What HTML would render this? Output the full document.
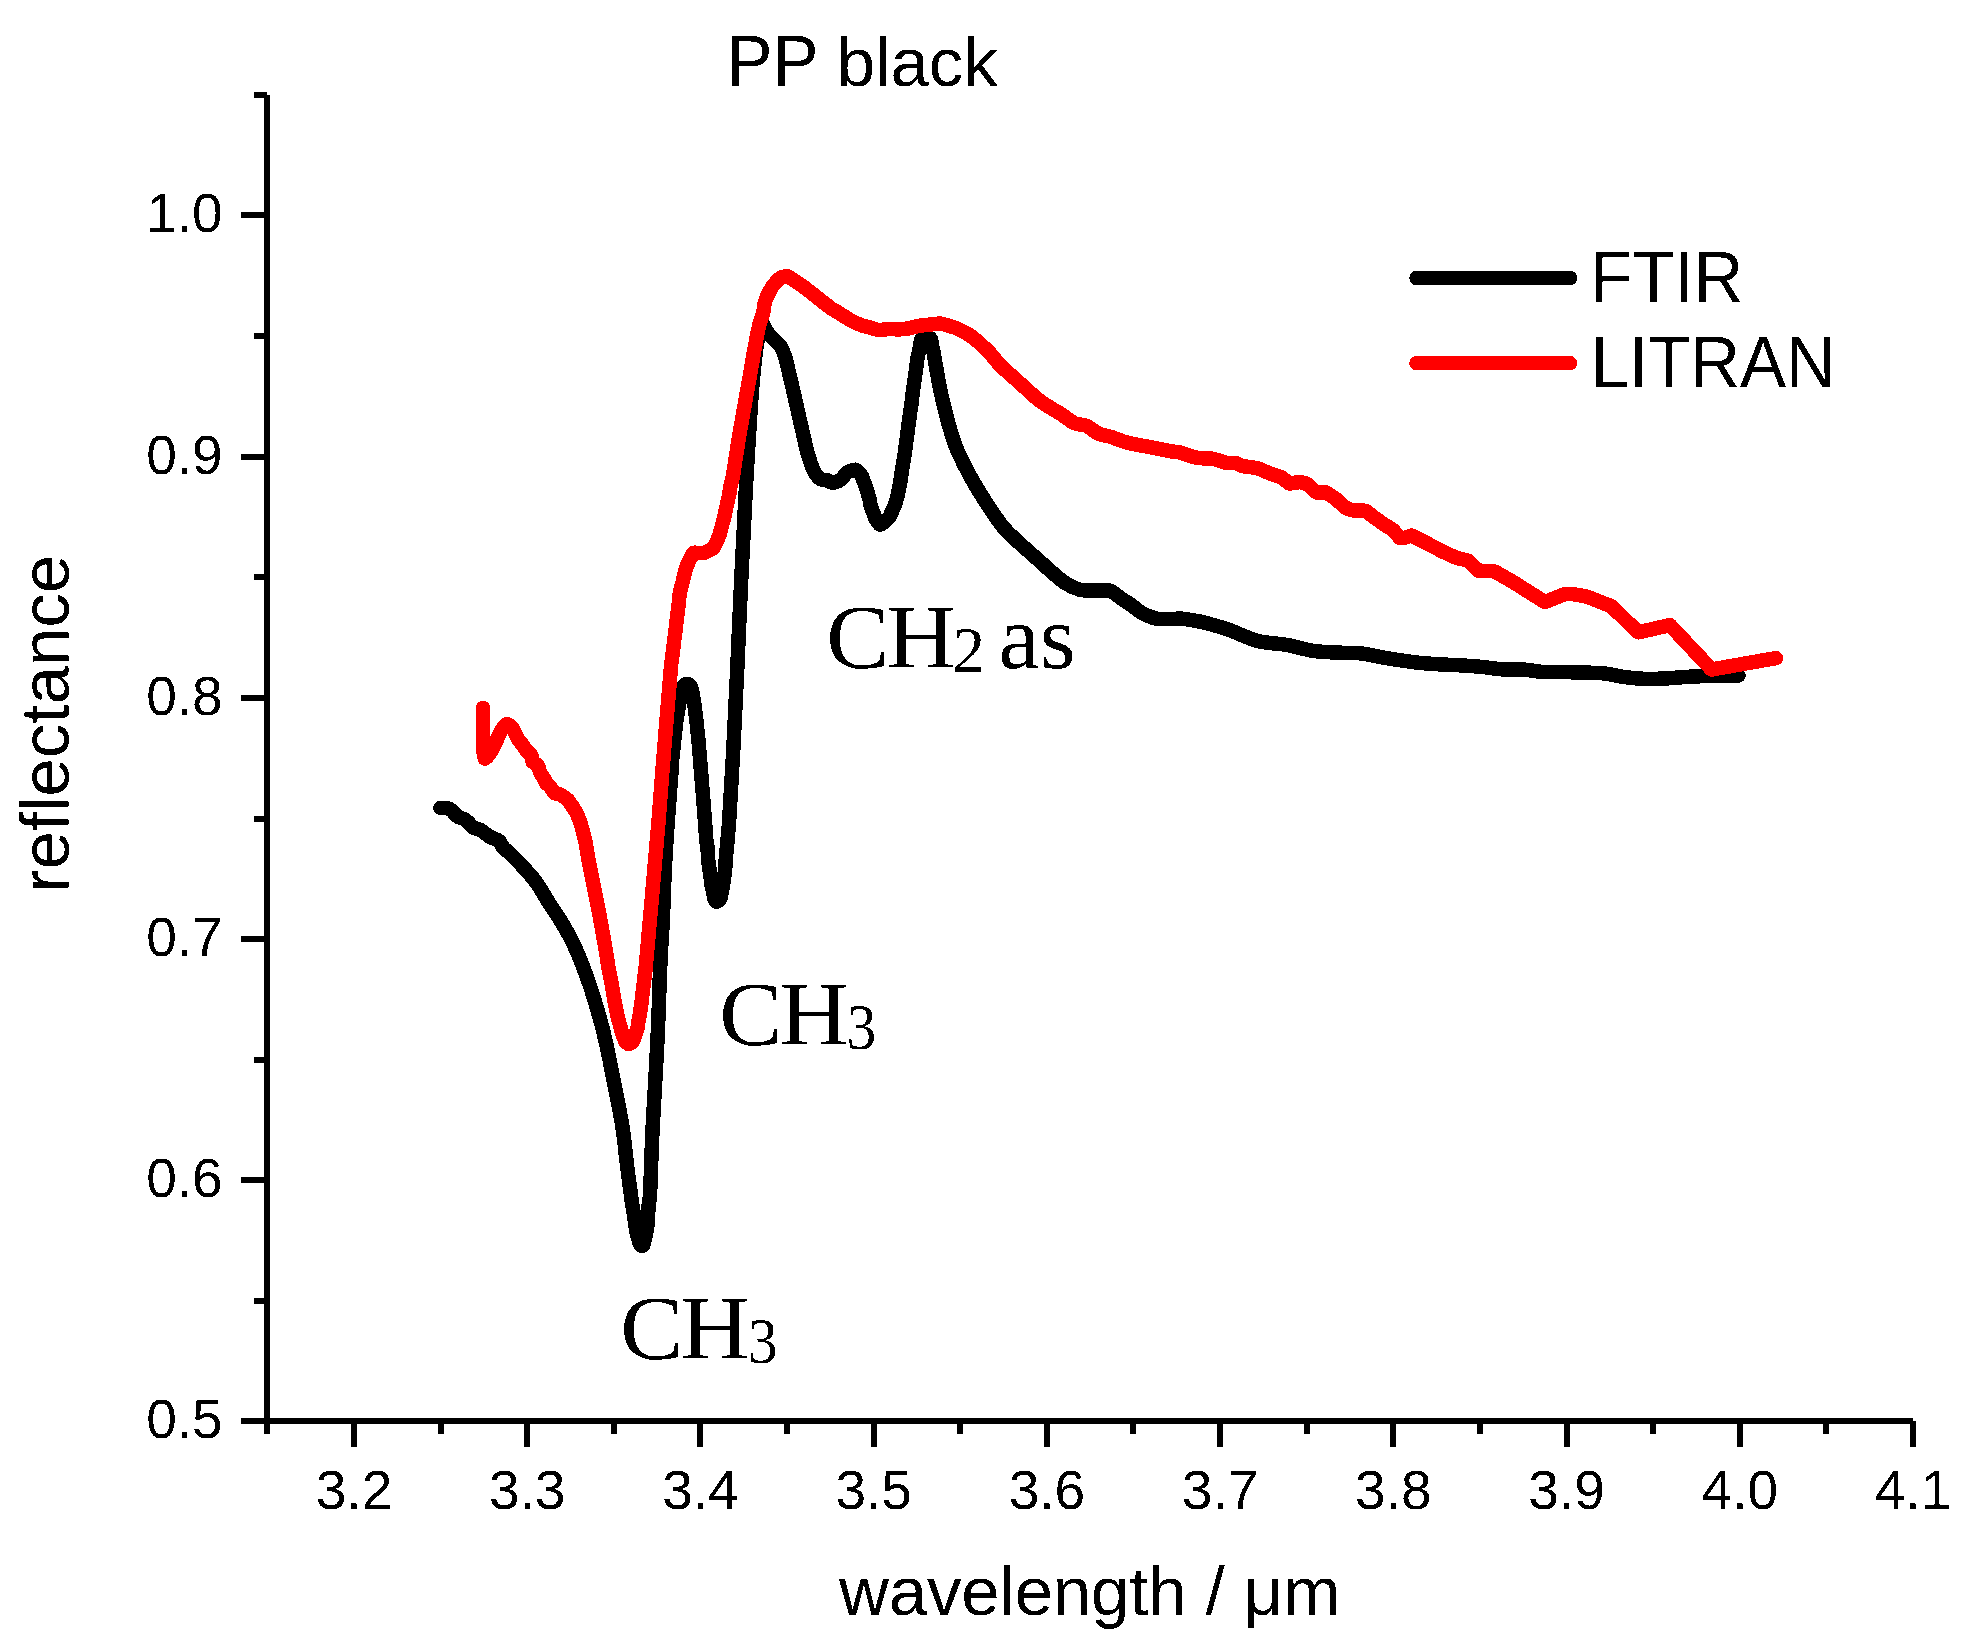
<!DOCTYPE html>
<html><head><meta charset="utf-8"><title>PP black</title>
<style>html,body{margin:0;padding:0;background:#fff}svg{display:block}</style></head>
<body><svg width="1969" height="1642" viewBox="0 0 1969 1642">
<defs><filter id="bi" filterUnits="userSpaceOnUse" x="0" y="0" width="1969" height="1642" color-interpolation-filters="sRGB"><feComponentTransfer><feFuncA type="discrete" tableValues="0 1"/></feComponentTransfer></filter></defs>
<rect width="1969" height="1642" fill="#fff"/>
<g stroke="#000" stroke-width="6" fill="none" stroke-linecap="butt" shape-rendering="crispEdges">
<path d="M267 95.0V1434"/>
<path d="M241 1421H1913"/>
<path d="M254 95H267"/>
<path d="M241 215H267"/>
<path d="M254 336H267"/>
<path d="M241 457H267"/>
<path d="M254 577H267"/>
<path d="M241 698H267"/>
<path d="M254 819H267"/>
<path d="M241 939H267"/>
<path d="M254 1060H267"/>
<path d="M241 1180H267"/>
<path d="M254 1301H267"/>
<path d="M354 1421V1446.5"/>
<path d="M441 1421V1434"/>
<path d="M527 1421V1446.5"/>
<path d="M614 1421V1434"/>
<path d="M700 1421V1446.5"/>
<path d="M787 1421V1434"/>
<path d="M874 1421V1446.5"/>
<path d="M960 1421V1434"/>
<path d="M1047 1421V1446.5"/>
<path d="M1133 1421V1434"/>
<path d="M1220 1421V1446.5"/>
<path d="M1307 1421V1434"/>
<path d="M1393 1421V1446.5"/>
<path d="M1480 1421V1434"/>
<path d="M1567 1421V1446.5"/>
<path d="M1653 1421V1434"/>
<path d="M1740 1421V1446.5"/>
<path d="M1826 1421V1434"/>
<path d="M1913 1421V1446.5"/>
</g>
<g font-family="'Liberation Sans',Arial,sans-serif" font-size="55" fill="#000" filter="url(#bi)">
<text x="222.6" y="232" text-anchor="end">1.0</text>
<text x="222.6" y="474" text-anchor="end">0.9</text>
<text x="222.6" y="715" text-anchor="end">0.8</text>
<text x="222.6" y="956" text-anchor="end">0.7</text>
<text x="222.6" y="1197" text-anchor="end">0.6</text>
<text x="222.6" y="1438" text-anchor="end">0.5</text>
<text x="354.0" y="1509.3" text-anchor="middle">3.2</text>
<text x="527.2" y="1509.3" text-anchor="middle">3.3</text>
<text x="700.4" y="1509.3" text-anchor="middle">3.4</text>
<text x="873.7" y="1509.3" text-anchor="middle">3.5</text>
<text x="1046.9" y="1509.3" text-anchor="middle">3.6</text>
<text x="1220.1" y="1509.3" text-anchor="middle">3.7</text>
<text x="1393.3" y="1509.3" text-anchor="middle">3.8</text>
<text x="1566.5" y="1509.3" text-anchor="middle">3.9</text>
<text x="1739.8" y="1509.3" text-anchor="middle">4.0</text>
<text x="1913.0" y="1509.3" text-anchor="middle">4.1</text>
</g>
<g font-family="'Liberation Sans',Arial,sans-serif" font-size="69" fill="#000" filter="url(#bi)">
<text transform="translate(726.5 86) scale(1 1.06)">PP </text><text x="836.7" y="86">black</text>
<text x="839" y="1615" textLength="501.6" lengthAdjust="spacing">wavelength / μm</text>
<text transform="translate(68.6 723.6) rotate(-90)" text-anchor="middle">reflectance</text>
<text transform="translate(1590 302) scale(1 1.06)">FTIR</text>
<text transform="translate(1590.5 387.1) scale(1 1.06)">LITRAN</text>
</g>
<g fill="none" stroke-width="14.5" stroke-linecap="round" stroke-linejoin="round" shape-rendering="crispEdges">
<path stroke="#000" d="M440.4 807.8C442.0 808.0 447.3 807.8 450.1 809.2C452.9 810.6 454.6 814.5 457.2 816.3C459.8 818.1 462.7 818.0 465.4 819.9C468.1 821.8 471.0 825.8 473.5 827.5C476.0 829.2 477.9 828.6 480.6 830.1C483.3 831.6 486.8 834.9 489.8 836.7C492.9 838.5 496.6 838.9 498.9 840.8C501.2 842.7 501.4 845.5 503.5 847.9C505.6 850.3 507.6 850.9 511.7 855.0C515.8 859.1 523.9 867.8 528.2 872.6C532.5 877.4 533.9 878.9 537.3 883.8C540.7 888.7 544.4 895.6 548.5 902.1C552.6 908.6 557.6 915.7 561.7 922.5C565.8 929.3 569.5 935.8 572.9 942.8C576.3 949.8 579.2 956.9 582.1 964.2C585.0 971.5 588.0 980.1 590.2 986.5C592.4 992.9 593.8 997.8 595.3 1002.7C596.8 1007.6 598.1 1012.1 599.2 1016.1C600.4 1020.1 601.2 1023.1 602.2 1027.0C603.2 1030.8 604.2 1035.4 605.1 1039.2C606.0 1043.0 606.8 1046.1 607.5 1049.6C608.2 1053.1 607.2 1047.8 609.6 1060.0C612.0 1072.2 619.0 1106.1 621.8 1122.8C624.6 1139.5 625.4 1151.8 626.4 1160.0C627.4 1168.2 627.4 1168.2 627.9 1172.2C628.4 1176.2 628.9 1180.2 629.4 1183.8C629.9 1187.4 630.4 1190.5 630.9 1194.1C631.4 1197.6 631.8 1201.8 632.3 1205.1C632.8 1208.3 633.3 1210.4 633.8 1213.6C634.3 1216.8 634.8 1220.8 635.3 1224.0C635.8 1227.2 636.2 1230.5 636.8 1233.1C637.3 1235.7 638.0 1237.5 638.6 1239.4C639.2 1241.3 639.6 1243.5 640.1 1244.5C640.6 1245.5 641.4 1245.6 641.9 1245.7C642.4 1245.8 643.0 1245.5 643.3 1245.0C643.6 1244.5 643.6 1243.9 643.8 1242.9C644.0 1241.9 644.4 1240.5 644.7 1239.1C645.0 1237.7 645.4 1236.3 645.8 1234.6C646.2 1232.9 646.5 1231.6 646.9 1228.9C647.3 1226.2 647.9 1222.1 648.1 1218.5C648.4 1214.9 648.1 1211.2 648.4 1207.5C648.7 1203.8 649.4 1201.6 649.8 1196.6C650.2 1191.6 650.5 1183.8 650.7 1177.7C651.0 1171.6 650.9 1169.2 651.3 1160.0C651.7 1150.8 651.9 1142.6 652.9 1122.8C653.9 1103.0 656.1 1068.5 657.4 1041.4C658.7 1014.3 659.6 980.2 660.5 960.0C661.4 939.8 662.0 936.1 662.8 920.0C663.6 903.9 664.2 880.2 665.1 863.5C666.0 846.8 666.8 835.6 667.9 820.0C669.0 804.4 670.9 779.9 671.6 770.0C672.3 760.1 671.7 765.7 672.1 760.8C672.5 755.9 673.6 746.9 674.2 740.7C674.9 734.6 675.4 729.0 676.0 723.9C676.6 718.8 677.4 714.9 678.1 710.2C678.9 705.6 679.7 699.8 680.5 696.0C681.3 692.2 682.2 689.1 683.0 687.2C683.8 685.3 684.1 684.9 685.0 684.4C685.9 683.9 687.6 684.1 688.5 684.4C689.4 684.7 690.0 685.0 690.6 686.3C691.2 687.6 691.8 689.8 692.3 692.0C692.8 694.2 693.2 697.4 693.6 699.7C694.0 702.0 694.3 703.5 694.6 706.0C694.9 708.5 695.2 711.7 695.6 714.5C696.0 717.3 696.4 720.2 696.7 723.0C697.0 725.8 697.2 728.4 697.5 731.5C697.8 734.6 698.3 738.3 698.6 741.9C698.9 745.5 699.2 749.0 699.5 752.9C699.8 756.8 699.6 753.9 700.5 765.1C701.4 776.3 704.0 807.8 704.9 820.0C705.8 832.2 705.7 833.8 706.1 838.3C706.5 842.8 707.0 843.2 707.4 846.8C707.8 850.3 707.9 855.9 708.2 859.6C708.5 863.3 709.0 865.9 709.4 868.8C709.8 871.6 710.2 874.2 710.5 876.7C710.8 879.2 711.0 881.8 711.4 884.0C711.8 886.2 712.3 888.1 712.7 890.1C713.1 892.1 713.4 894.1 713.8 895.7C714.1 897.3 714.3 898.5 714.8 899.5C715.3 900.5 716.1 901.9 717.0 901.7C717.9 901.5 719.6 899.5 720.3 898.5C721.0 897.5 720.8 896.7 721.1 895.4C721.4 894.1 721.8 892.5 722.1 890.9C722.4 889.3 722.5 887.5 722.8 885.8C723.1 884.1 723.3 883.4 723.7 880.9C724.1 878.4 724.6 874.5 725.0 870.9C725.4 867.2 725.5 862.6 725.8 859.0C726.1 855.4 726.4 852.8 726.7 849.3C727.0 845.8 727.3 843.2 727.7 838.3C728.1 833.4 728.5 831.4 729.2 820.0C729.9 808.6 731.4 782.4 732.1 770.0C732.8 757.6 733.0 756.2 733.5 745.6C734.0 735.0 734.8 719.2 735.4 706.6C736.0 694.0 736.2 692.1 737.2 670.0C738.2 647.9 740.0 605.1 741.5 574.1C743.0 543.1 744.5 512.8 746.1 484.2C747.7 455.6 749.5 423.5 751.0 402.8C752.5 382.1 753.7 370.3 754.8 360.0C755.9 349.7 756.5 346.3 757.5 341.0C758.5 335.7 759.7 331.0 760.5 328.0C761.3 325.0 761.9 323.8 762.3 323.2C762.7 322.6 762.0 322.7 763.0 324.4C764.0 326.1 766.1 330.5 768.1 333.2C770.1 335.9 773.2 338.4 775.1 340.4C777.0 342.4 778.4 343.6 779.5 345.0C780.6 346.4 781.2 347.2 782.0 348.8C782.8 350.4 783.6 352.6 784.4 354.9C785.2 357.1 784.7 354.3 786.6 362.3C788.5 370.3 793.0 389.5 796.0 402.8C799.0 416.1 803.0 434.0 804.9 442.1C806.8 450.2 806.3 448.5 807.1 451.3C807.9 454.1 808.7 456.7 809.5 459.2C810.3 461.7 810.9 464.2 811.9 466.5C812.9 468.8 813.8 471.1 815.2 473.2C816.6 475.3 818.5 477.9 820.4 479.1C822.3 480.3 825.0 479.6 826.8 480.2C828.6 480.8 829.6 482.1 831.1 482.4C832.6 482.7 834.6 482.3 835.6 482.2C836.6 482.1 836.3 482.0 836.9 481.7C837.5 481.4 838.4 481.1 839.2 480.6C840.0 480.1 840.8 479.8 841.8 478.8C842.8 477.9 844.1 475.9 844.9 474.9C845.7 473.9 845.9 473.4 846.8 472.8C847.7 472.2 848.7 471.6 850.3 471.1C851.9 470.6 854.3 469.1 856.2 469.9C858.1 470.6 860.3 473.8 861.5 475.6C862.7 477.4 862.7 478.6 863.4 480.5C864.1 482.4 865.0 484.7 865.8 486.9C866.5 489.1 867.2 491.4 867.9 493.6C868.6 495.8 869.3 498.3 869.8 500.3C870.3 502.3 870.2 503.8 870.7 505.8C871.2 507.8 872.4 510.5 873.1 512.3C873.8 514.1 874.2 515.3 874.7 516.6C875.2 517.9 875.4 518.8 876.3 520.1C877.2 521.4 878.7 524.3 880.0 524.6C881.3 524.9 883.1 523.0 884.3 522.1C885.5 521.2 886.4 520.1 887.3 519.2C888.2 518.3 888.9 517.7 889.6 516.5C890.3 515.3 891.0 513.7 891.7 512.2C892.4 510.7 893.2 508.9 893.8 507.4C894.4 505.9 894.7 505.8 895.4 503.4C896.1 501.0 897.4 496.7 898.2 493.0C899.0 489.3 899.7 485.6 900.4 481.4C901.1 477.2 901.6 472.4 902.3 468.0C903.0 463.6 903.8 459.9 904.5 455.2C905.2 450.5 905.5 447.5 906.5 440.0C907.5 432.5 909.7 415.8 910.5 410.0C911.3 404.2 910.8 408.7 911.3 405.1C911.8 401.5 912.6 393.9 913.3 388.6C914.0 383.3 914.8 378.4 915.5 373.4C916.2 368.4 916.7 363.0 917.4 358.8C918.1 354.6 919.2 351.0 919.8 348.0C920.4 345.0 920.6 342.3 921.0 340.7C921.4 339.1 920.9 338.7 922.4 338.3C923.9 337.9 928.6 336.9 930.3 338.3C931.9 339.7 931.8 344.3 932.3 346.7C932.8 349.1 933.2 350.8 933.6 352.8C934.0 354.8 934.1 355.2 934.7 358.8C935.3 362.4 936.5 369.5 937.4 374.6C938.3 379.7 939.2 384.1 940.2 389.2C941.2 394.3 942.9 401.6 943.7 405.1C944.5 408.6 944.4 407.2 945.1 410.0C945.8 412.8 946.2 415.8 948.0 421.9C949.8 427.9 952.5 438.2 955.7 446.3C958.9 454.4 963.4 463.3 967.2 470.6C971.0 477.9 974.4 483.6 978.3 490.1C982.2 496.6 986.6 503.5 990.8 509.7C994.9 515.9 999.0 522.1 1003.2 527.1C1007.4 532.1 1011.7 535.9 1015.9 539.9C1020.1 543.9 1024.2 547.3 1028.3 551.0C1032.4 554.7 1036.4 558.2 1040.5 561.9C1044.6 565.6 1048.5 569.4 1052.8 573.0C1057.0 576.6 1061.5 580.7 1066.0 583.5C1070.5 586.3 1075.4 588.6 1080.1 589.8C1084.8 591.0 1089.7 590.4 1094.1 590.5C1098.5 590.6 1103.4 590.4 1106.3 590.5C1109.2 590.6 1109.1 590.1 1111.5 591.3C1113.9 592.5 1117.2 595.6 1120.5 597.9C1123.8 600.2 1128.0 602.7 1131.5 605.2C1135.0 607.7 1137.7 610.7 1141.8 612.9C1145.9 615.1 1151.3 617.5 1156.0 618.5C1160.7 619.5 1165.4 619.2 1169.7 619.2C1174.0 619.2 1176.8 618.3 1181.8 618.7C1186.8 619.1 1196.0 620.9 1200.0 621.6C1204.0 622.3 1200.9 621.5 1205.7 622.9C1210.5 624.2 1220.0 626.7 1228.6 629.7C1237.2 632.7 1247.8 638.4 1257.5 640.9C1267.2 643.4 1277.3 643.3 1286.5 644.9C1295.7 646.5 1304.0 649.4 1312.4 650.7C1320.8 652.0 1328.6 652.2 1336.7 652.6C1344.8 653.0 1353.9 652.7 1361.1 653.4C1368.3 654.1 1374.4 655.9 1380.0 656.9C1385.6 657.9 1388.1 658.4 1394.6 659.4C1401.1 660.4 1411.3 662.0 1419.0 662.8C1426.7 663.6 1433.9 664.0 1441.0 664.4C1448.1 664.8 1454.6 665.0 1461.4 665.4C1468.2 665.8 1474.9 666.2 1481.7 666.9C1488.5 667.5 1495.3 668.9 1502.1 669.3C1508.9 669.7 1515.6 669.1 1522.4 669.5C1529.2 669.9 1536.0 671.5 1542.8 671.9C1549.6 672.3 1556.3 672.0 1563.1 672.1C1569.9 672.2 1576.7 672.4 1583.5 672.6C1590.3 672.8 1597.0 672.7 1603.8 673.4C1610.6 674.1 1617.4 676.1 1624.2 677.0C1631.0 677.9 1637.7 678.6 1644.5 678.9C1651.3 679.1 1658.0 678.8 1664.8 678.5C1671.6 678.2 1678.4 677.4 1685.2 677.0C1692.0 676.6 1698.7 676.3 1705.5 676.0C1712.3 675.7 1720.4 675.5 1725.9 675.4C1731.4 675.3 1736.4 675.6 1738.5 675.6"/>
<path stroke="#f00" d="M482.9 707.9C482.9 711.8 483.0 735.9 483.1 741.0C483.2 746.1 483.4 749.9 483.6 752.0C483.8 754.1 484.2 758.7 485.1 758.6C486.0 758.5 489.5 754.1 491.4 750.9C493.3 747.7 499.4 733.9 501.2 730.8C503.0 727.7 505.2 724.6 506.5 724.2C507.8 723.8 510.7 725.8 512.0 727.5C513.3 729.2 516.7 736.8 517.9 738.8C519.1 740.8 521.2 743.0 522.2 744.4C523.2 745.8 525.2 749.2 526.3 750.5C527.4 751.8 530.7 754.3 531.4 755.6C532.1 756.9 531.8 760.4 532.5 761.5C533.2 762.6 536.8 763.9 537.7 765.3C538.6 766.7 539.8 771.9 540.5 773.4C541.2 774.9 543.5 777.4 544.1 778.5C544.7 779.6 545.3 782.1 546.0 783.0C546.7 783.9 549.0 785.3 550.0 786.5C551.0 787.7 553.3 792.1 554.5 793.0C555.7 793.9 558.5 793.9 560.0 794.6C561.5 795.3 565.8 798.2 567.0 799.2C568.2 800.2 569.0 801.5 570.0 802.9C571.0 804.3 574.5 809.4 575.6 811.3C576.7 813.2 578.5 817.4 579.3 819.6C580.1 821.8 581.9 827.7 582.6 830.4C583.3 833.1 585.1 840.2 585.7 843.1C586.3 846.0 586.8 850.8 587.7 855.5C588.6 860.2 591.9 876.9 593.3 883.8C594.7 890.7 598.0 906.7 599.4 914.3C600.8 921.9 604.6 943.6 605.5 948.9C606.4 954.2 606.9 957.3 607.3 960.0C607.7 962.7 608.8 969.4 609.3 972.2C609.8 975.0 611.2 981.8 611.7 984.4C612.2 987.0 612.9 991.8 613.3 994.1C613.7 996.4 614.7 1001.7 615.1 1003.9C615.5 1006.1 616.4 1010.7 616.9 1013.0C617.4 1015.3 619.0 1021.6 619.5 1023.4C620.0 1025.2 620.5 1027.5 620.9 1028.8C621.2 1030.1 622.1 1033.1 622.5 1034.4C622.9 1035.7 624.2 1038.7 624.6 1039.6C625.0 1040.5 625.4 1041.6 625.7 1042.0C626.0 1042.4 626.6 1042.9 626.9 1043.1C627.2 1043.3 627.8 1043.9 628.2 1043.9C628.6 1043.9 630.1 1043.7 630.5 1043.5C630.9 1043.3 631.2 1042.8 631.5 1042.5C631.8 1042.2 632.6 1041.7 632.9 1041.2C633.2 1040.7 633.9 1038.8 634.2 1037.8C634.6 1036.8 635.5 1034.0 635.9 1032.8C636.3 1031.6 637.3 1028.5 637.6 1027.3C637.9 1026.1 638.1 1023.7 638.3 1022.2C638.5 1020.7 639.4 1016.7 639.7 1014.8C640.0 1012.9 640.7 1008.7 641.0 1006.3C641.3 1003.9 642.2 996.7 642.5 994.1C642.8 991.5 643.4 987.0 643.7 984.4C644.0 981.8 644.7 974.8 645.0 972.2C645.3 969.6 644.6 979.2 646.2 961.8C647.8 944.4 656.5 845.2 658.4 822.8C660.3 800.4 661.1 787.8 662.5 770.0C663.9 752.2 669.6 682.8 670.7 670.0C671.8 657.2 671.6 662.4 671.9 660.0C672.2 657.6 672.8 651.8 673.1 649.6C673.4 647.4 673.9 642.9 674.1 641.0C674.3 639.1 675.0 634.9 675.2 633.1C675.4 631.3 675.9 627.0 676.1 625.2C676.3 623.4 676.8 619.7 677.0 617.9C677.2 616.1 677.8 611.8 678.0 610.0C678.2 608.2 678.6 604.7 678.8 602.7C679.0 600.7 679.5 594.8 679.8 592.9C680.1 591.0 681.0 588.2 681.4 586.8C681.8 585.4 682.5 582.7 682.8 581.3C683.1 579.9 683.9 576.8 684.3 575.2C684.7 573.6 685.6 569.0 686.0 567.8C686.4 566.6 687.2 565.4 687.5 564.8C687.8 564.2 688.2 562.9 688.4 562.3C688.6 561.7 689.2 560.5 689.6 559.9C690.0 559.3 690.9 557.6 691.4 556.8C691.9 556.0 692.7 553.2 693.6 552.8C694.5 552.4 697.5 553.0 698.7 553.0C699.9 553.0 702.4 553.4 703.6 553.1C704.8 552.8 707.9 551.2 709.0 550.6C710.1 550.0 712.6 548.6 713.3 548.0C714.0 547.4 714.3 546.6 715.0 545.2C715.7 543.8 718.6 537.2 719.2 535.8C719.8 534.4 719.8 533.7 720.1 532.8C720.4 531.9 721.1 529.0 721.4 527.9C721.7 526.8 722.2 524.6 722.5 523.6C722.8 522.6 723.5 520.5 723.8 519.4C724.1 518.3 724.6 515.0 724.8 513.9C725.0 512.8 725.7 510.7 725.9 509.6C726.1 508.5 726.6 505.9 726.9 504.7C727.2 503.5 727.8 500.5 728.1 499.3C728.4 498.1 728.9 496.0 729.2 494.4C729.5 492.8 730.1 487.9 730.5 485.8C730.9 483.7 732.3 479.1 732.9 476.1C733.5 473.1 734.8 463.6 735.4 460.0C736.0 456.4 737.1 449.0 737.7 445.3C738.3 441.6 739.8 432.4 740.6 427.9C741.4 423.3 743.5 411.4 744.4 406.3C745.3 401.2 747.3 389.8 748.3 384.4C749.3 379.0 751.9 363.9 752.6 360.0C753.3 356.1 753.6 353.3 754.0 351.4C754.4 349.5 755.2 345.6 755.6 343.5C756.0 341.4 757.0 335.4 757.5 333.1C758.0 330.8 759.2 325.6 759.6 324.0C760.0 322.4 760.6 320.4 761.0 319.1C761.4 317.8 762.8 314.6 763.2 313.0C763.6 311.4 763.9 306.9 764.3 305.1C764.7 303.3 766.1 298.7 766.7 297.2C767.3 295.7 768.5 293.4 769.1 292.3C769.7 291.2 771.2 288.4 771.8 287.4C772.4 286.4 773.5 284.9 774.5 283.8C775.5 282.7 779.2 278.8 780.5 277.9C781.8 277.0 784.6 276.5 785.5 276.3C786.4 276.1 786.8 275.9 787.9 276.5C789.0 277.1 793.4 280.0 795.3 281.3C797.2 282.6 802.3 285.9 804.4 287.4C806.5 288.9 810.8 292.5 812.9 294.1C815.0 295.7 819.9 299.7 822.1 301.4C824.3 303.1 830.2 307.7 831.8 308.8C833.4 309.9 833.9 309.9 836.0 311.2C838.1 312.5 846.9 318.1 849.9 319.8C852.9 321.5 859.8 324.6 862.1 325.5C864.4 326.4 868.0 327.0 870.0 327.5C872.0 328.0 876.9 329.9 879.1 330.1C881.3 330.3 886.8 329.0 888.9 328.9C891.0 328.8 895.2 329.4 897.4 329.4C899.6 329.4 905.4 328.9 907.8 328.5C910.2 328.1 915.8 326.4 918.1 326.0C920.4 325.6 925.3 325.1 927.9 324.8C930.5 324.5 937.9 323.5 940.1 323.5C942.3 323.5 945.0 324.7 946.8 325.2C948.6 325.7 953.5 327.1 955.3 327.8C957.1 328.5 960.9 330.3 962.6 331.2C964.3 332.1 967.9 334.1 969.5 335.1C971.1 336.1 974.5 338.8 976.0 340.0C977.5 341.2 980.5 344.1 982.0 345.5C983.5 346.9 986.6 349.4 988.8 351.8C991.0 354.2 998.1 363.2 1000.9 366.1C1003.7 369.0 1010.3 374.4 1013.1 377.0C1015.9 379.6 1022.5 385.4 1025.3 388.0C1028.1 390.6 1034.7 396.7 1037.5 399.0C1040.3 401.3 1046.9 405.5 1049.7 407.3C1052.5 409.1 1059.1 412.8 1061.9 414.6C1064.7 416.4 1071.3 421.8 1074.1 423.1C1076.9 424.4 1083.5 424.6 1086.3 425.8C1089.1 427.0 1095.7 432.4 1098.5 433.7C1101.3 435.0 1107.8 435.9 1110.6 436.8C1113.4 437.7 1120.0 440.4 1122.8 441.3C1125.6 442.2 1132.2 443.8 1135.0 444.4C1137.8 445.0 1144.4 446.0 1147.2 446.5C1150.0 447.0 1156.6 448.4 1159.4 449.0C1162.2 449.6 1169.2 451.0 1171.6 451.4C1174.0 451.8 1179.0 452.4 1180.0 452.5L1187.3 455.1L1197.7 458.0L1213.2 458.8L1225.7 462.7L1235.5 463.0L1242.8 466.1L1257.4 468.1L1269.0 473.1L1281.8 477.5L1289.3 483.5L1297.0 482.5L1300.1 481.9L1307.0 483.9L1316.5 492.5L1326.0 492.3L1335.4 498.6L1346.4 508.4L1353.1 510.4L1365.9 510.8L1374.4 517.5L1382.9 523.6L1392.7 529.7L1400.0 538.0L1403.7 538.1L1411.6 535.5L1417.7 538.5L1429.3 544.5L1442.7 551.6L1456.1 557.7L1468.3 560.7L1478.6 570.8L1492.6 570.8L1496.3 572.4L1513.4 582.2L1544.9 602.1L1564.8 594.1L1573.1 594.2L1585.9 596.3L1610.9 606.0L1638.5 632.3L1669.9 625.1L1711.6 669.5L1776.0 658.1"/>
<path stroke="#000" d="M1416.5 278H1570"/>
<path stroke="#f00" d="M1416.5 363.2H1570"/>
</g>
<g font-family="'Liberation Serif','Times New Roman',serif" fill="#000" filter="url(#bi)"><text transform="translate(826.3 667.9) scale(1.05 1)" font-size="90">C</text><text transform="translate(886.2 667.9) scale(1.07 1)" font-size="90">H</text><text transform="translate(952.6 671.9) scale(1.0 1)" font-size="65">2 </text><text transform="translate(998.5 667.9) scale(1.03 1)" font-size="90">as</text></g>
<g font-family="'Liberation Serif','Times New Roman',serif" fill="#000" filter="url(#bi)"><text transform="translate(719.2 1044.8) scale(1.05 1)" font-size="90">C</text><text transform="translate(779.2 1044.8) scale(1.07 1)" font-size="90">H</text><text transform="translate(846.4 1048.8) scale(0.92 1)" font-size="65">3</text></g>
<g font-family="'Liberation Serif','Times New Roman',serif" fill="#000" filter="url(#bi)"><text transform="translate(620.3 1358.5) scale(1.05 1)" font-size="90">C</text><text transform="translate(680.2 1358.5) scale(1.07 1)" font-size="90">H</text><text transform="translate(747.7 1362.5) scale(0.92 1)" font-size="65">3</text></g>
</svg></body></html>
